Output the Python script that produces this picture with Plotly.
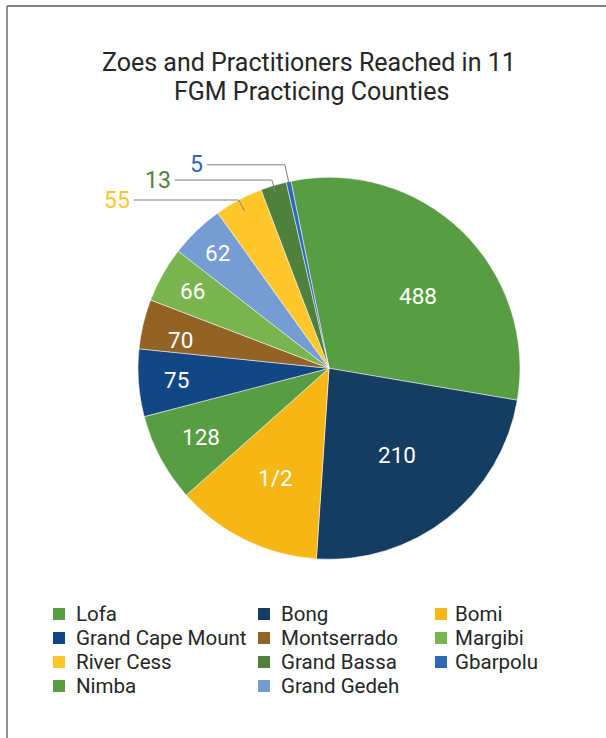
import math
import plotly.graph_objects as go

# Slice order (clockwise from the top) and the numbers printed on each slice
counties = ["Lofa", "Bong", "Bomi", "Nimba", "Grand Cape Mount", "Montserrado",
            "Margibi", "Grand Gedeh", "River Cess", "Grand Bassa", "Gbarpolu"]
shown_value = ["488", "210", "1/2", "128", "75", "70", "66", "62", "55", "13", "5"]
# share of the pie (percent)
slice_share = [30.9, 23.4, 12.4, 7.5, 5.7, 4.2, 4.7, 4.6, 4.1, 2.2, 0.4]

# legend order as it appears under the chart (row by row, three columns)
legend_order = ["Lofa", "Bong", "Bomi", "Grand Cape Mount", "Montserrado", "Margibi",
                "River Cess", "Grand Bassa", "Gbarpolu", "Nimba", "Grand Gedeh"]

colors = {
    "Lofa": "#589D44", "Bong": "#153C61", "Bomi": "#F6B716", "Nimba": "#589D44",
    "Grand Cape Mount": "#124685", "Montserrado": "#936325", "Margibi": "#79B44F",
    "Grand Gedeh": "#759CD3", "River Cess": "#FFC72C", "Grand Bassa": "#4F813D",
    "Gbarpolu": "#2C6AB8",
}

W, H = 606, 738
CX, CY, R = 329, 368.3, 191
ROT = -11.5
FONT = "Roboto, Arial, sans-serif"
TEXT = "#262626"


def to_paper(px, py):
    return px / W, 1 - py / H


def polar(theta, frac):
    t = math.radians(theta)
    return CX + frac * R * math.sin(t), CY - frac * R * math.cos(t)


def label(px, py, text, size, color, xanchor="center"):
    x, y = to_paper(px, py)
    return dict(x=x, y=y, xref="paper", yref="paper", text=text, showarrow=False,
                xanchor=xanchor, yanchor="middle", font=dict(family=FONT, size=size, color=color))


fig = go.Figure()
fig.add_trace(go.Pie(
    labels=counties, values=slice_share, sort=False, direction="clockwise",
    rotation=ROT, textinfo="none", hoverinfo="label",
    marker=dict(colors=[colors[c] for c in counties], line=dict(color="white", width=0.5)),
    domain=dict(x=[(CX - R) / W, (CX + R) / W], y=[1 - (CY + R) / H, 1 - (CY - R) / H]),
    showlegend=False,
))

annotations = []
shapes = []

# data labels and leader lines
inside_frac = {"488": 0.6, "210": 0.576, "1/2": 0.64, "128": 0.76, "75": 0.80,
               "70": 0.79, "66": 0.82, "62": 0.84}
inside_shift = {"488": 6.5, "70": -2.5}
outside = {  # endpoint frac, elbow frac, horizontal line length (px)
    "55": (0.935, 1.0, 105),
    "13": (0.964, 1.03, 97),
    "5": (0.99, 1.09, 78),
}

total = sum(slice_share)
cum = 0
for c, lab, v in zip(counties, shown_value, slice_share):
    mid = ROT + 360 * (cum + v / 2) / total
    cum += v
    if lab in inside_frac:
        px, py = polar(mid + inside_shift.get(lab, 0), inside_frac[lab])
        annotations.append(label(px, py, lab, 22.5, "white"))
    else:
        end_f, elb_f, length = outside[lab]
        ex, ey = polar(mid, end_f)
        bx, by = polar(mid, elb_f)
        lx = bx - length
        p = [to_paper(ex, ey), to_paper(bx, by), to_paper(lx, by)]
        shapes.append(dict(type="path", xref="paper", yref="paper",
                           path="M {} {} L {} {} L {} {}".format(p[0][0], p[0][1], p[1][0], p[1][1], p[2][0], p[2][1]),
                           line=dict(color="#7F7F7F", width=1)))
        annotations.append(label(lx - 2, by, lab, 23, colors[c], xanchor="right"))

# title, two lines
for line, (tx, ty) in zip(["Zoes and Practitioners Reached in 11", "FGM Practicing Counties"],
                          [(309, 62), (311, 91)]):
    annotations.append(label(tx, ty, line, 25, TEXT))

# legend drawn as squares + text, three columns
sq_x = [59, 264, 441]
txt_x = [74, 279, 453]
row_y = [614, 638, 662, 686]
for i, c in enumerate(legend_order):
    col, row = i % 3, i // 3
    x0, y0 = to_paper(sq_x[col] - 6, row_y[row] - 6)
    x1, y1 = to_paper(sq_x[col] + 6, row_y[row] + 6)
    shapes.append(dict(type="rect", xref="paper", yref="paper", x0=x0, x1=x1, y0=y0, y1=y1,
                       fillcolor=colors[c], line=dict(width=0)))
    annotations.append(label(txt_x[col], row_y[row], c, 20.5, TEXT, xanchor="left"))

# frame lines at top and left
shapes.append(dict(type="line", xref="paper", yref="paper", x0=7 / W, x1=1, y0=1 - 6 / H, y1=1 - 6 / H,
                   line=dict(color="#595959", width=1.3)))
shapes.append(dict(type="line", xref="paper", yref="paper", x0=7 / W, x1=7 / W, y0=0, y1=1 - 6 / H,
                   line=dict(color="#595959", width=1.3)))

fig.update_layout(
    width=W, height=H,
    margin=dict(l=0, r=0, t=0, b=0),
    paper_bgcolor="white", plot_bgcolor="white",
    showlegend=False,
    annotations=annotations, shapes=shapes,
)

fig.write_html("out.html", config={"displayModeBar": False},
               post_script="document.body.style.margin = '0px';")
